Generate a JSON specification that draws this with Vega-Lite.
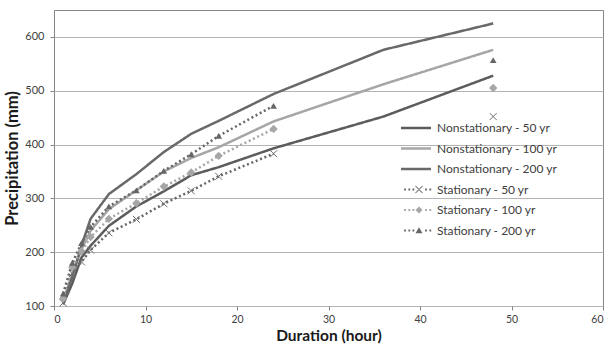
{
  "$schema": "https://vega.github.io/schema/vega-lite/v6.json",
  "width": 549,
  "height": 296,
  "autosize": "none",
  "padding": {"left": 54, "top": 10, "right": 5, "bottom": 38},
  "background": "white",
  "config": {
    "view": {"stroke": "#868686", "strokeWidth": 1},
    "font": "Lato"
  },
  "data": {
    "values": [
      {"d": 1, "s": "Nonstationary - 50 yr", "v": 103},
      {"d": 2, "s": "Nonstationary - 50 yr", "v": 142},
      {"d": 3, "s": "Nonstationary - 50 yr", "v": 190},
      {"d": 4, "s": "Nonstationary - 50 yr", "v": 212},
      {"d": 6, "s": "Nonstationary - 50 yr", "v": 249},
      {"d": 9, "s": "Nonstationary - 50 yr", "v": 285},
      {"d": 12, "s": "Nonstationary - 50 yr", "v": 313},
      {"d": 15, "s": "Nonstationary - 50 yr", "v": 343},
      {"d": 18, "s": "Nonstationary - 50 yr", "v": 358},
      {"d": 24, "s": "Nonstationary - 50 yr", "v": 393},
      {"d": 36, "s": "Nonstationary - 50 yr", "v": 452},
      {"d": 48, "s": "Nonstationary - 50 yr", "v": 528},
      {"d": 1, "s": "Nonstationary - 100 yr", "v": 108},
      {"d": 2, "s": "Nonstationary - 100 yr", "v": 160},
      {"d": 3, "s": "Nonstationary - 100 yr", "v": 205},
      {"d": 4, "s": "Nonstationary - 100 yr", "v": 240},
      {"d": 6, "s": "Nonstationary - 100 yr", "v": 280},
      {"d": 9, "s": "Nonstationary - 100 yr", "v": 315},
      {"d": 12, "s": "Nonstationary - 100 yr", "v": 350},
      {"d": 15, "s": "Nonstationary - 100 yr", "v": 375},
      {"d": 18, "s": "Nonstationary - 100 yr", "v": 395},
      {"d": 24, "s": "Nonstationary - 100 yr", "v": 443},
      {"d": 36, "s": "Nonstationary - 100 yr", "v": 512},
      {"d": 48, "s": "Nonstationary - 100 yr", "v": 576},
      {"d": 1, "s": "Nonstationary - 200 yr", "v": 105},
      {"d": 2, "s": "Nonstationary - 200 yr", "v": 154},
      {"d": 3, "s": "Nonstationary - 200 yr", "v": 212},
      {"d": 4, "s": "Nonstationary - 200 yr", "v": 262},
      {"d": 6, "s": "Nonstationary - 200 yr", "v": 308},
      {"d": 9, "s": "Nonstationary - 200 yr", "v": 345},
      {"d": 12, "s": "Nonstationary - 200 yr", "v": 386},
      {"d": 15, "s": "Nonstationary - 200 yr", "v": 420},
      {"d": 18, "s": "Nonstationary - 200 yr", "v": 444},
      {"d": 24, "s": "Nonstationary - 200 yr", "v": 494},
      {"d": 36, "s": "Nonstationary - 200 yr", "v": 576},
      {"d": 48, "s": "Nonstationary - 200 yr", "v": 625},
      {"d": 1, "s": "Stationary - 50 yr", "v": 106},
      {"d": 2, "s": "Stationary - 50 yr", "v": 160},
      {"d": 3, "s": "Stationary - 50 yr", "v": 182},
      {"d": 4, "s": "Stationary - 50 yr", "v": 204},
      {"d": 6, "s": "Stationary - 50 yr", "v": 236},
      {"d": 9, "s": "Stationary - 50 yr", "v": 261},
      {"d": 12, "s": "Stationary - 50 yr", "v": 290},
      {"d": 15, "s": "Stationary - 50 yr", "v": 314},
      {"d": 18, "s": "Stationary - 50 yr", "v": 341},
      {"d": 24, "s": "Stationary - 50 yr", "v": 383},
      {"d": 48, "s": "Stationary - 50 yr", "v": 452},
      {"d": 1, "s": "Stationary - 100 yr", "v": 114},
      {"d": 2, "s": "Stationary - 100 yr", "v": 172},
      {"d": 3, "s": "Stationary - 100 yr", "v": 202},
      {"d": 4, "s": "Stationary - 100 yr", "v": 228},
      {"d": 6, "s": "Stationary - 100 yr", "v": 262},
      {"d": 9, "s": "Stationary - 100 yr", "v": 291},
      {"d": 12, "s": "Stationary - 100 yr", "v": 322},
      {"d": 15, "s": "Stationary - 100 yr", "v": 348},
      {"d": 18, "s": "Stationary - 100 yr", "v": 379},
      {"d": 24, "s": "Stationary - 100 yr", "v": 429},
      {"d": 48, "s": "Stationary - 100 yr", "v": 505},
      {"d": 1, "s": "Stationary - 200 yr", "v": 123},
      {"d": 2, "s": "Stationary - 200 yr", "v": 180},
      {"d": 3, "s": "Stationary - 200 yr", "v": 217},
      {"d": 4, "s": "Stationary - 200 yr", "v": 247},
      {"d": 6, "s": "Stationary - 200 yr", "v": 285},
      {"d": 9, "s": "Stationary - 200 yr", "v": 315},
      {"d": 12, "s": "Stationary - 200 yr", "v": 351},
      {"d": 15, "s": "Stationary - 200 yr", "v": 382},
      {"d": 18, "s": "Stationary - 200 yr", "v": 416},
      {"d": 24, "s": "Stationary - 200 yr", "v": 472},
      {"d": 48, "s": "Stationary - 200 yr", "v": 557}
    ]
  },
  "encoding": {
    "x": {
      "field": "d", "type": "quantitative",
      "scale": {"domain": [0, 60], "nice": false, "zero": false},
      "axis": {
        "title": "Duration (hour)", "values": [0, 10, 20, 30, 40, 50, 60],
        "grid": false, "domain": false, "tickColor": "#868686", "tickSize": 4,
        "labelFont": "Lato", "labelFontSize": 10.5, "labelColor": "#404040", "labelPadding": 4,
        "titleFont": "Lato", "titleFontSize": 15.5, "titleFontWeight": "bold", "titleColor": "#1a1a1a",
        "titleY": 34, "titleBaseline": "alphabetic"
      }
    },
    "y": {
      "field": "v", "type": "quantitative",
      "scale": {"domain": [100, 650], "nice": false, "zero": false},
      "axis": {
        "title": "Precipitation (mm)", "values": [100, 200, 300, 400, 500, 600],
        "grid": true, "gridColor": "#b4b4b4", "gridWidth": 1.2,
        "domain": false, "tickColor": "#868686", "tickSize": 4,
        "labelFont": "Lato", "labelFontSize": 11, "labelColor": "#404040", "labelPadding": 6,
        "titleFont": "Lato", "titleFontSize": 16.5, "titleFontWeight": "bold", "titleColor": "#1a1a1a", "titlePadding": 4
      }
    }
  },
  "layer": [
    {
      "transform": [{"filter": "indexof(datum.s, 'Nonstationary') === 0 || datum.d <= 24"}],
      "mark": {"type": "line", "strokeWidth": 2.5, "strokeCap": "butt", "clip": true},
      "encoding": {
        "color": {
          "field": "s", "type": "nominal",
          "scale": {
            "domain": ["Nonstationary - 50 yr", "Nonstationary - 100 yr", "Nonstationary - 200 yr", "Stationary - 50 yr", "Stationary - 100 yr", "Stationary - 200 yr"],
            "range": ["#5c5c5c", "#a6a6a6", "#696969", "#666666", "#a6a6a6", "#666666"]
          },
          "legend": {
            "title": null, "orient": "none", "legendX": 356, "legendY": 112, "padding": 0,
            "symbolSize": 100, "symbolStrokeWidth": 0, "symbolOpacity": 1,
            "labelFont": "Lato", "labelFontSize": 12, "labelColor": "#404040", "labelOffset": 15,
            "rowPadding": 8.5,
            "encode": {
              "symbols": {
                "update": {
                  "shape": {"signal": "datum.value === 'Stationary - 50 yr' ? 'M-2.38,-0.18h0.36v0.36h-0.36zM-1.52,-0.18h0.36v0.36h-0.36zM-0.7,-0.18h0.36v0.36h-0.36zM1.82,-0.18h0.36v0.36h-0.36zM2.68,-0.18h0.36v0.36h-0.36zM-0.03,-0.77L1.37,0.63L1.23,0.77L-0.17,-0.63ZM-0.03,0.77L-0.17,0.63L1.23,-0.77L1.37,-0.63Z' : datum.value === 'Stationary - 100 yr' ? 'M-2.38,-0.18h0.36v0.36h-0.36zM-1.52,-0.18h0.36v0.36h-0.36zM-0.7,-0.18h0.36v0.36h-0.36zM1.82,-0.18h0.36v0.36h-0.36zM2.68,-0.18h0.36v0.36h-0.36zM-0.1,0L0.6,-0.7L1.3,0L0.6,0.7Z' : datum.value === 'Stationary - 200 yr' ? 'M-2.38,-0.18h0.36v0.36h-0.36zM-1.52,-0.18h0.36v0.36h-0.36zM-0.7,-0.18h0.36v0.36h-0.36zM1.82,-0.18h0.36v0.36h-0.36zM2.68,-0.18h0.36v0.36h-0.36zM-0.1,0.55L0.6,-0.65L1.3,0.55Z' : 'M-3,-0.25H3V0.25H-3Z'"},
                  "fill": {"scale": "color", "field": "value"},
                  "strokeWidth": {"value": 0},
                  "opacity": {"value": 1},
                  "size": {"value": 100}
                }
              }
            }
          }
        },
        "strokeDash": {
          "field": "s", "type": "nominal",
          "scale": {
            "domain": ["Nonstationary - 50 yr", "Nonstationary - 100 yr", "Nonstationary - 200 yr", "Stationary - 50 yr", "Stationary - 100 yr", "Stationary - 200 yr"],
            "range": [[1, 0], [1, 0], [1, 0], [2, 2.7], [2, 2.7], [2, 2.7]]
          },
          "legend": null
        }
      }
    },
    {
      "transform": [{"filter": "datum.s === 'Stationary - 50 yr'"}],
      "mark": {"type": "point", "filled": false, "shape": "M-1,-1L1,1M-1,1L1,-1", "size": 49, "strokeWidth": 1, "color": "#6e6e6e", "opacity": 1}
    },
    {
      "transform": [{"filter": "datum.s === 'Stationary - 100 yr' || datum.s === 'Stationary - 200 yr'"}],
      "mark": {"type": "point", "filled": true, "opacity": 1, "strokeWidth": 0},
      "encoding": {
        "shape": {
          "field": "s", "type": "nominal",
          "scale": {"domain": ["Stationary - 100 yr", "Stationary - 200 yr"], "range": ["diamond", "triangle-up"]},
          "legend": null
        },
        "size": {
          "field": "s", "type": "nominal",
          "scale": {"domain": ["Stationary - 100 yr", "Stationary - 200 yr"], "range": [70, 45]},
          "legend": null
        },
        "fill": {
          "field": "s", "type": "nominal",
          "scale": {"domain": ["Stationary - 100 yr", "Stationary - 200 yr"], "range": ["#a6a6a6", "#666666"]},
          "legend": null
        }
      }
    }
  ]
}
